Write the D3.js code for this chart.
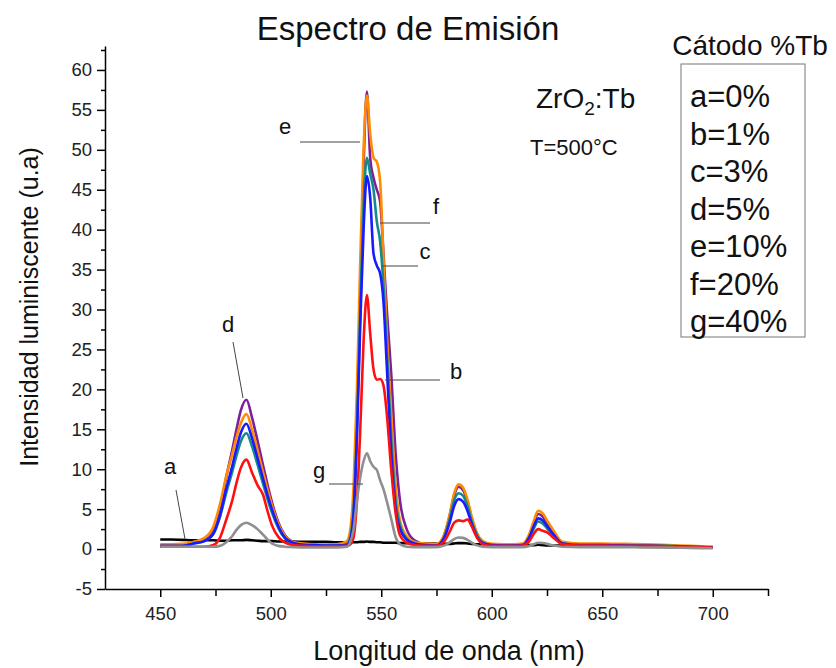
<!DOCTYPE html>
<html>
<head>
<meta charset="utf-8">
<script src="https://cdn.jsdelivr.net/npm/d3@7"></script>
<style>
  body { margin: 0; background: #fff; }
  svg { display: block; font-family: "Liberation Sans", Arial, sans-serif; }
</style>
</head>
<body>
<div id="content"></div>
<script>
// wavelength grid (nm)
const wavelength = [
  450, 455, 460, 465, 470, 474, 477, 480, 482.5, 484.5,
  486.5, 489, 491.5, 494, 496.5, 498.5, 500.5, 503.5, 506.5, 510,
  515, 520, 525, 530, 534.5, 536, 537.5, 539, 540.5, 542,
  543.5, 545, 546.5, 548, 549.5, 551, 552.5, 554.5, 556.5, 558.5,
  561.5, 565, 570, 575, 578, 581, 583, 585, 587, 589,
  591, 593, 596, 600, 605, 610, 614, 617, 619, 621,
  623, 625, 628, 632, 640, 650, 660, 670, 680, 690, 700
];

// intensity per sample (u.a)
const serieA = [
  1.2, 1.2, 1.15, 1.1, 1.1, 1.1, 1.05, 1.05, 1.1, 1.1,
  1.1, 1.15, 1.1, 1.05, 1.0, 1.0, 1.0, 0.95, 0.95, 0.95,
  0.9, 0.9, 0.9, 0.85, 0.85, 0.85, 0.85, 0.85, 0.9, 0.9,
  0.95, 0.9, 0.9, 0.85, 0.85, 0.8, 0.8, 0.8, 0.8, 0.75,
  0.75, 0.75, 0.7, 0.7, 0.65, 0.65, 0.7, 0.75, 0.75, 0.7,
  0.65, 0.6, 0.6, 0.55, 0.55, 0.5, 0.5, 0.5, 0.5, 0.55,
  0.5, 0.45, 0.45, 0.45, 0.4, 0.35, 0.3, 0.3, 0.25, 0.2, 0.2
];
const serieB = [
  0.3, 0.3, 0.3, 0.3, 0.3, 0.5, 1.4, 3.8, 6.0, 8.3,
  10.2, 11.2, 9.6, 8.0, 6.8, 4.8, 3.0, 1.5, 0.8, 0.5,
  0.4, 0.35, 0.35, 0.35, 0.4, 0.6, 1.5, 6, 15, 26,
  31.8, 27, 22.5, 21.2, 21.3, 20.5, 17, 10, 4.5, 1.7,
  0.8, 0.5, 0.4, 0.4, 0.8, 2.2, 3.3, 3.6, 3.5, 3.7,
  2.8, 1.6, 0.6, 0.4, 0.4, 0.4, 0.45, 1.0, 1.9, 2.5,
  2.3, 2.1, 1.4, 0.6, 0.45, 0.45, 0.4, 0.4, 0.35, 0.25, 0.2
];
const serieC = [
  0.4, 0.4, 0.4, 0.7, 1.0, 1.9, 4.2, 7.7, 10.3, 12.6,
  14.6, 15.7, 13.9, 11.4, 8.8, 6.8, 5.0, 2.8, 1.4, 0.8,
  0.55, 0.5, 0.45, 0.45, 0.5, 1.2, 4.5, 14, 28, 40,
  46.7, 44, 37, 35.5, 34.5, 31, 23, 12, 5, 2.5,
  1.2, 0.7, 0.5, 0.45, 1.15, 3.35, 5.4, 6.25, 5.95, 4.8,
  3.1, 1.7, 0.75, 0.5, 0.45, 0.45, 0.5, 1.5, 2.85, 3.85,
  3.6, 2.9, 1.8, 0.7, 0.5, 0.5, 0.45, 0.4, 0.35, 0.3, 0.2
];
const serieD = [
  0.4, 0.4, 0.45, 0.8, 1.1, 2.2, 5.0, 9.2, 12.3, 15.0,
  17.4, 18.7, 16.5, 13.6, 10.5, 8.1, 5.9, 3.3, 1.7, 0.9,
  0.6, 0.5, 0.45, 0.45, 0.6, 1.3, 5, 16, 32, 48,
  57.3, 49, 46.5, 45, 43.5, 37, 30, 22, 12, 6,
  2.5, 1.1, 0.6, 0.5, 1.4, 4.2, 6.7, 7.8, 7.4, 6.0,
  3.8, 2.1, 0.9, 0.55, 0.5, 0.5, 0.55, 1.7, 3.2, 4.4,
  4.1, 3.3, 2.1, 0.8, 0.55, 0.6, 0.55, 0.5, 0.4, 0.3, 0.25
];
const serieE = [
  0.6, 0.6, 0.65, 0.9, 1.4, 2.8, 5.6, 9.3, 11.8, 14.0,
  15.8, 16.9, 15.0, 12.4, 9.6, 7.5, 5.5, 3.1, 1.6, 0.9,
  0.7, 0.6, 0.55, 0.6, 1.0, 2.5, 8, 20, 36, 50,
  56.8, 52, 49, 48.5, 46, 36.5, 27, 17, 8, 3.5,
  1.6, 0.9, 0.7, 0.65, 1.5, 4.4, 7.0, 8.1, 7.7, 6.2,
  4.0, 2.2, 1.0, 0.65, 0.6, 0.6, 0.7, 1.9, 3.5, 4.8,
  4.5, 3.6, 2.3, 0.9, 0.7, 0.7, 0.65, 0.6, 0.5, 0.4, 0.3
];
const serieF = [
  0.3, 0.3, 0.35, 0.7, 1.0, 1.9, 4.0, 7.2, 9.6, 11.7,
  13.5, 14.5, 12.9, 10.6, 8.2, 6.3, 4.6, 2.6, 1.3, 0.7,
  0.5, 0.45, 0.4, 0.4, 0.6, 1.5, 5, 15, 30, 43,
  49, 47, 45, 41, 38.5, 33, 25, 14, 6, 3,
  1.3, 0.7, 0.5, 0.45, 1.2, 3.8, 6.1, 7.0, 6.7, 5.4,
  3.4, 1.9, 0.8, 0.5, 0.45, 0.45, 0.5, 1.35, 2.55, 3.45,
  3.2, 2.6, 1.65, 0.7, 0.5, 0.5, 0.5, 0.45, 0.4, 0.3, 0.2
];
const serieG = [
  0.3, 0.3, 0.3, 0.3, 0.3, 0.3, 0.4, 0.9, 1.6, 2.4,
  3.0, 3.3, 3.0, 2.5, 1.8, 1.2, 0.7, 0.4, 0.3, 0.25,
  0.2, 0.2, 0.2, 0.2, 0.3, 0.9, 2.5, 6.1, 9, 11,
  12.0, 11.0, 10.3, 9.9, 8.6, 7.5, 6.0, 3.8, 1.5, 0.6,
  0.3, 0.25, 0.25, 0.25, 0.4, 0.85, 1.25, 1.45, 1.4, 1.15,
  0.8, 0.5, 0.3, 0.25, 0.25, 0.25, 0.25, 0.4, 0.6, 0.8,
  0.75, 0.65, 0.45, 0.3, 0.25, 0.25, 0.25, 0.2, 0.2, 0.15, 0.1
];

const legendLabels = ['a=0%', 'b=1%', 'c=3%', 'd=5%', 'e=10%', 'f=20%', 'g=40%'];
const xTicks = [450, 500, 550, 600, 650, 700];
const yTicks = [-5, 0, 5, 10, 15, 20, 25, 30, 35, 40, 45, 50, 55, 60];

// draw order: back to front
const series = [
  { key: 'a', values: serieA, color: '#000000' },
  { key: 'd', values: serieD, color: '#7f1f9a' },
  { key: 'e', values: serieE, color: '#ff8c00' },
  { key: 'f', values: serieF, color: '#168a8a' },
  { key: 'c', values: serieC, color: '#1a1aff' },
  { key: 'b', values: serieB, color: '#ff1010' },
  { key: 'g', values: serieG, color: '#8f8f8f' }
];

const width = 836, height = 668;
const svg = d3.select('#content').append('svg')
  .attr('width', width).attr('height', height)
  .style('background', 'white');

const x = d3.scaleLinear().domain([425, 725]).range([105, 768]);
const y = d3.scaleLinear().domain([-5, 63]).range([589, 46]);

// axes (plain hyphen for negatives, like the original)
svg.append('g').attr('transform', `translate(${x(425)},0)`)
  .call(d3.axisLeft(y).tickValues(yTicks).tickFormat(d => String(d))
    .tickSize(8).tickSizeOuter(0).tickPadding(5));
svg.append('g').attr('transform', `translate(${x(425)},0)`)
  .call(d3.axisLeft(y).tickValues(d3.range(-2.5, 63, 5)).tickSize(4).tickFormat(''))
  .call(g => g.select('.domain').remove());
svg.append('g').attr('transform', `translate(0,${y(-5)})`)
  .call(d3.axisBottom(x).tickValues(xTicks).tickSize(8).tickSizeOuter(0).tickPadding(10));
svg.append('g').attr('transform', `translate(0,${y(-5)})`)
  .call(d3.axisBottom(x).tickValues([475, 525, 575, 625, 675, 725]).tickSize(7).tickFormat(''))
  .call(g => g.select('.domain').remove());

svg.selectAll('.domain, .tick line').attr('stroke', '#000').attr('stroke-width', 1.5);
svg.selectAll('.tick text').style('font-size', '18.5px').style('font-family', '"Liberation Sans", Arial, sans-serif').attr('fill', '#222');

// curves
const line = d3.line()
  .x((d, i) => x(wavelength[i]))
  .y(d => y(d))
  .curve(d3.curveMonotoneX);

svg.append('g').selectAll('path')
  .data(series)
  .join('path')
  .attr('d', s => line(s.values))
  .attr('fill', 'none')
  .attr('stroke', s => s.color)
  .attr('stroke-width', 2.6)
  .attr('stroke-linejoin', 'round');

// leader labels
const leaders = [
  { t: 'e', tx: 285, ty: 134, l: [300, 142, 360, 142] },
  { t: 'f', tx: 436, ty: 214, l: [380, 223, 430, 223] },
  { t: 'c', tx: 425, ty: 259, l: [382, 266, 418, 266] },
  { t: 'd', tx: 228, ty: 332, l: [233, 342, 243, 398] },
  { t: 'b', tx: 456, ty: 379, l: [385, 380, 440, 380] },
  { t: 'a', tx: 170, ty: 474, l: [176, 490, 185, 539] },
  { t: 'g', tx: 319, ty: 478, l: [329, 484, 363, 484] }
];
const lg = svg.append('g');
leaders.forEach(d => {
  lg.append('line')
    .attr('x1', d.l[0]).attr('y1', d.l[1]).attr('x2', d.l[2]).attr('y2', d.l[3])
    .attr('stroke', '#444').attr('stroke-width', 1);
  lg.append('text').attr('x', d.tx).attr('y', d.ty)
    .attr('text-anchor', 'middle').style('font-size', '22px').attr('fill', '#111').text(d.t);
});

// title and annotations
svg.append('text').attr('x', 408).attr('y', 40).attr('text-anchor', 'middle')
  .style('font-size', '33px').attr('fill', '#111').text('Espectro de Emisión');

const zr = svg.append('text').attr('x', 536).attr('y', 108).style('font-size', '28px').attr('fill', '#111');
zr.append('tspan').text('ZrO');
zr.append('tspan').attr('dy', 7).style('font-size', '19px').text('2');
zr.append('tspan').attr('dy', -7).text(':Tb');

svg.append('text').attr('x', 530).attr('y', 155).style('font-size', '22px').attr('fill', '#111').text('T=500°C');

// legend box
svg.append('text').attr('x', 750).attr('y', 55).attr('text-anchor', 'middle')
  .style('font-size', '28px').attr('fill', '#111').text('Cátodo %Tb');
svg.append('rect').attr('x', 681).attr('y', 64).attr('width', 124).attr('height', 273)
  .attr('fill', 'none').attr('stroke', '#777').attr('stroke-width', 1);
svg.append('g').selectAll('text')
  .data(legendLabels)
  .join('text')
  .attr('x', 690)
  .attr('y', (d, i) => 107 + i * 37.5)
  .style('font-size', '31px')
  .attr('fill', '#111')
  .text(d => d);

// axis titles
svg.append('text').attr('transform', `translate(38,307) rotate(-90)`).attr('text-anchor', 'middle')
  .style('font-size', '25px').attr('fill', '#111').text('Intensidad luminiscente (u.a)');
svg.append('text').attr('x', 449).attr('y', 660).attr('text-anchor', 'middle')
  .style('font-size', '27px').attr('fill', '#111').text('Longitud de onda (nm)');
</script>
</body>
</html>
